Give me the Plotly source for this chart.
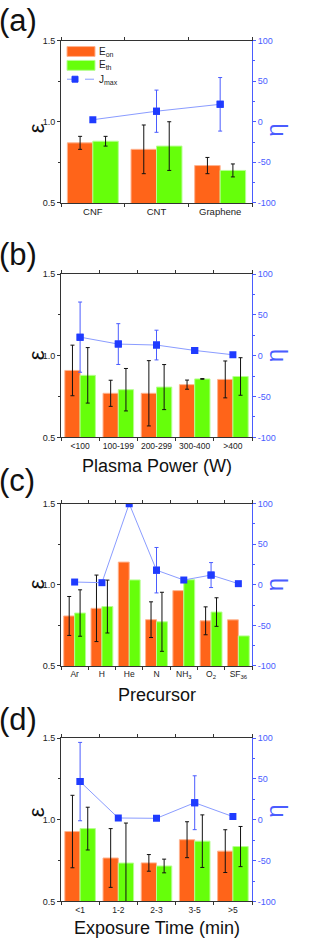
import plotly.graph_objects as go

# ---------------- data ----------------
cat_a = ["CNF", "CNT", "Graphene"]
eon_a = [0.87, 0.83, 0.73]
eon_a_err = [0.04, 0.15, 0.05]
eth_a = [0.88, 0.85, 0.70]
eth_a_err = [0.03, 0.15, 0.04]
j_a = [2.5, 13, 21.5]
j_a_err = [None, 26, 33]

cat_b = ["<100", "100-199", "200-299", "300-400", ">400"]
eon_b = [0.91, 0.77, 0.77, 0.823, 0.855]
eon_b_err = [0.155, 0.08, 0.20, 0.028, 0.113]
eth_b = [0.88, 0.792, 0.808, 0.858, 0.873]
eth_b_err = [0.17, 0.13, 0.138, 0.002, 0.115]
j_b = [22.8, 14.3, 13.1, 6.5, 1.2]
j_b_err = [43, 25, 18.2, 3, None]

cat_c = ["Ar", "H", "He", "N", "NH<sub>3</sub>", "O<sub>2</sub>", "SF<sub>36</sub>"]
eon_c = [0.808, 0.855, 1.14, 0.785, 0.964, 0.778, 0.784]
eon_c_err = [0.12, 0.205, None, 0.11, None, 0.086, None]
eth_c = [0.826, 0.866, 1.03, 0.772, 1.031, 0.832, 0.685]
eth_c_err = [0.143, 0.163, None, 0.182, None, 0.088, None]
j_c = [3.4, 2.6, 100, 18, 5.9, 12, 1.4]
j_c_err = [None, None, None, 28, None, 15.4, None]

cat_d = ["<1", "1-2", "2-3", "3-5", ">5"]
eon_d = [0.928, 0.766, 0.736, 0.878, 0.808]
eon_d_err = [0.222, 0.18, 0.051, 0.11, 0.131]
eth_d = [0.946, 0.735, 0.717, 0.869, 0.836]
eth_d_err = [0.131, 0.245, 0.042, 0.161, 0.123]
j_d = [46.8, 2.2, 1.8, 20.9, 3.9]
j_d_err = [48, None, None, 33, None]

series_names = ["E<sub>on</sub>", "E<sub>th</sub>", "J<sub>max</sub>"]

panels = [
    ("(a)", cat_a, eon_a, eon_a_err, eth_a, eth_a_err, j_a, j_a_err, ""),
    ("(b)", cat_b, eon_b, eon_b_err, eth_b, eth_b_err, j_b, j_b_err, "Plasma Power (W)"),
    ("(c)", cat_c, eon_c, eon_c_err, eth_c, eth_c_err, j_c, j_c_err, "Precursor"),
    ("(d)", cat_d, eon_d, eon_d_err, eth_d, eth_d_err, j_d, j_d_err, "Exposure Time (min)"),
]

# ---------------- style ----------------
W, H = 309, 945
FONT = "Liberation Sans, Arial, sans-serif"
ORANGE = "#FF6419"
GREEN = "#66FF0A"
BLUE = "#1F3BFF"
LBLUE = "#8A9CFF"
AXBLUE = "#4A5CFF"
ORANGE_EDGE = "#FFB38F"
GREEN_EDGE = "#B5FF8F"

x_left, x_right = 61, 252
ys = [(36, 200), (272, 437), (504, 668), (741, 906)]
label_y = [16, 252, 481, 722]
title_y = [None, 466, 697, 933]


def px(x):
    return x / W


def py(y):
    return 1 - y / H


def split(cats, vals, errs):
    with_e = [(c, v, e) for c, v, e in zip(cats, vals, errs) if e is not None]
    no_e = [(c, v) for c, v, e in zip(cats, vals, errs) if e is None]
    return with_e, no_e


fig = go.Figure()
layout = dict(
    width=W, height=H, margin=dict(l=0, r=0, t=0, b=0),
    paper_bgcolor="white", plot_bgcolor="white",
    font=dict(family=FONT, color="#222222", size=10),
    barmode="group", bargap=0.2, bargroupgap=0.0,
    showlegend=False,
)
annotations = []
shapes = []

for i, (lab, cats, eon, eonerr, eth, etherr, j, jerr, xtitle) in enumerate(panels):
    n = i + 1
    xa = "x" if n == 1 else f"x{n}"
    ya = "y" if n == 1 else f"y{2*n-1}"
    yb = f"y{2*n}"
    xkey = "xaxis" if n == 1 else f"xaxis{n}"
    yakey = "yaxis" if n == 1 else f"yaxis{2*n-1}"
    ybkey = f"yaxis{2*n}"
    top, bot = ys[i]
    dom = [py(bot), py(top)]

    for name, vals, errs, col, lcol, grp in [
        (series_names[0], eon, eonerr, ORANGE, ORANGE_EDGE, "on"),
        (series_names[1], eth, etherr, GREEN, GREEN_EDGE, "th"),
    ]:
        we, ne = split(cats, vals, errs)
        if we:
            fig.add_trace(go.Bar(
                x=[c for c, _, _ in we], y=[v for _, v, _ in we], name=name,
                xaxis=xa, yaxis=ya,
                marker=dict(color=col, line=dict(color=lcol, width=1)),
                error_y=dict(type="data", array=[e for _, _, e in we], visible=True,
                             color="#111111", thickness=1, width=2),
                offsetgroup=grp))
        if ne:
            fig.add_trace(go.Bar(
                x=[c for c, _ in ne], y=[v for _, v in ne], name=name,
                xaxis=xa, yaxis=ya,
                marker=dict(color=col, line=dict(color=lcol, width=1)),
                offsetgroup=grp))

    fig.add_trace(go.Scatter(
        x=cats, y=j, name=series_names[2], xaxis=xa, yaxis=yb,
        mode="lines+markers",
        line=dict(color=LBLUE, width=1),
        marker=dict(symbol="square", size=7, color=BLUE)))
    we, _ = split(cats, j, jerr)
    if we:
        fig.add_trace(go.Scatter(
            x=[c for c, _, _ in we], y=[v for _, v, _ in we], xaxis=xa, yaxis=yb,
            mode="markers", marker=dict(symbol="square", size=7, color=BLUE),
            error_y=dict(type="data", array=[e for _, _, e in we], visible=True,
                         color=AXBLUE, thickness=1, width=2),
            name=series_names[2]))

    layout[xkey] = dict(
        domain=[px(x_left), px(x_right)], anchor=ya, type="category",
        categoryorder="array", categoryarray=cats,
        range=[-0.5, len(cats) - 0.5], showline=True, linecolor="#333333",
        linewidth=1, mirror="ticks", ticks="outside", tickson="boundaries",
        ticklen=3, tickcolor="#333333", tickangle=0,
        tickfont=dict(size=8.5 if n != 1 else 9.5, color="#222222"),
        showgrid=False, zeroline=False, fixedrange=True)
    layout[yakey] = dict(
        domain=dom, anchor=xa, range=[0.5, 1.5], tickvals=[0.5, 1.0, 1.5],
        ticktext=["0.5", "1.0", "1.5"], showline=True, linecolor="#333333",
        linewidth=1, ticks="outside", ticklen=3, tickcolor="#333333",
        minor=dict(tickvals=[0.75, 1.25], ticks="outside", ticklen=2,
                   tickcolor="#333333"),
        tickfont=dict(size=9, color="#222222"), showgrid=False, zeroline=False,
        fixedrange=True)
    layout[ybkey] = dict(
        overlaying=ya, anchor=xa, side="right", range=[-100, 100],
        tickvals=[-100, -50, 0, 50, 100], ticktext=["-100", "-50", "0", "50", "100"],
        showline=True, linecolor=AXBLUE, linewidth=1, ticks="outside",
        ticklen=3, tickcolor=AXBLUE,
        minor=dict(tickvals=[-75, -25, 25, 75], ticks="outside", ticklen=2,
                   tickcolor=AXBLUE),
        tickfont=dict(size=9, color=AXBLUE), showgrid=False, zeroline=False,
        fixedrange=True)

    annotations.append(dict(text=lab, x=-0.01, y=py(label_y[i]), xref="paper",
                            yref="paper", xanchor="left", yanchor="middle",
                            showarrow=False, font=dict(size=31, color="#111111")))
    annotations.append(dict(text="ε", x=px(22), y=py((top + bot) / 2),
                            xref="paper", yref="paper", textangle=-90,
                            showarrow=False, font=dict(size=22, color="#111111")))
    annotations.append(dict(text="η", x=px(290), y=py((top + bot) / 2),
                            xref="paper", yref="paper", textangle=-90,
                            showarrow=False, font=dict(size=24, color=AXBLUE)))
    if xtitle:
        annotations.append(dict(text=xtitle, x=px((x_left + x_right) / 2),
                                y=py(title_y[i]), xref="paper", yref="paper",
                                xanchor="center", yanchor="middle", showarrow=False,
                                font=dict(size=18, color="#111111")))

# ---------------- legend of panel (a), drawn inside the plot ----------------
leg_x0, leg_x1 = 67, 95
leg_rows = [47, 61, 75]
for (name, col, lcol, ry) in [
    (series_names[0], ORANGE, ORANGE_EDGE, leg_rows[0]),
    (series_names[1], GREEN, GREEN_EDGE, leg_rows[1]),
]:
    shapes.append(dict(type="rect", xref="paper", yref="paper",
                       x0=px(leg_x0), x1=px(leg_x1), y0=py(ry + 5), y1=py(ry - 5),
                       fillcolor=col, line=dict(color=lcol, width=1)))
    annotations.append(dict(text=name, x=px(leg_x1 + 2), y=py(ry), xref="paper",
                            yref="paper", xanchor="left", yanchor="middle",
                            showarrow=False, font=dict(size=10, color="#222222")))
ry = leg_rows[2]
shapes.append(dict(type="line", xref="paper", yref="paper",
                   x0=px(leg_x0), x1=px(leg_x1), y0=py(ry), y1=py(ry),
                   line=dict(color=LBLUE, width=1, dash="dash")))
shapes.append(dict(type="rect", xref="paper", yref="paper",
                   x0=px(72), x1=px(78), y0=py(ry + 3), y1=py(ry - 3),
                   fillcolor=BLUE, line=dict(color=BLUE, width=1)))
annotations.append(dict(text=series_names[2], x=px(leg_x1 + 2), y=py(ry + 1),
                        xref="paper", yref="paper", xanchor="left", yanchor="middle",
                        showarrow=False, font=dict(size=10, color="#222222")))

layout["annotations"] = annotations
layout["shapes"] = shapes
fig.update_layout(**layout)
fig.write_html("out.html",
               config={"displayModeBar": False, "staticPlot": True},
               post_script="document.body.style.margin='0';document.body.style.overflow='hidden';")
